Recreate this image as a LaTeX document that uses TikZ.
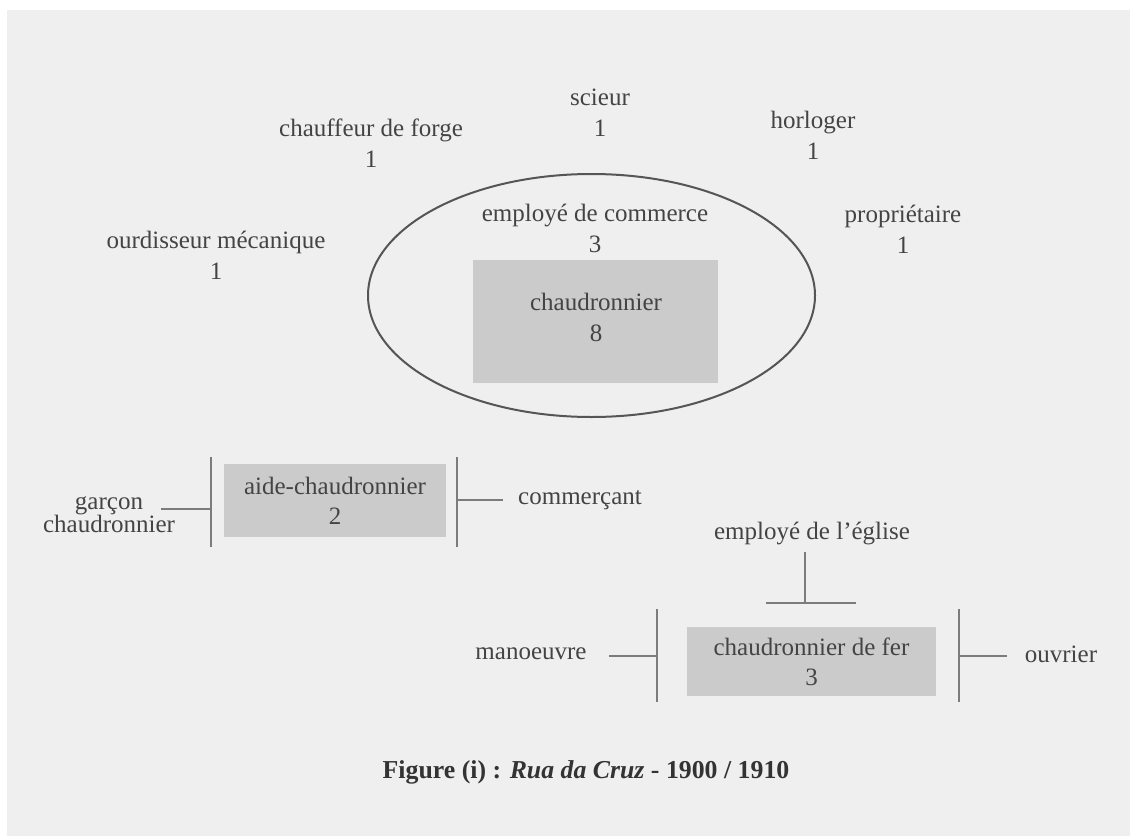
\documentclass[tikz,border=0pt]{standalone}
\usepackage{fontspec}
\setmainfont{Liberation Serif}
\usetikzlibrary{shapes.geometric}
\definecolor{paper}{HTML}{EFEFEF}
\definecolor{ink}{HTML}{444444}
\definecolor{rulegray}{HTML}{7C7C7C}
\definecolor{ringgray}{HTML}{555555}
\definecolor{boxfill}{HTML}{CBCBCB}

\begin{document}
\begin{tikzpicture}[x=1pt,y=-1pt,
  lbl/.style={font=\fontsize{25}{31}\selectfont, text=ink, align=center, inner sep=0pt},
  tightlbl/.style={lbl, font=\fontsize{25}{23}\selectfont},
  jobbox/.style={fill=boxfill, draw=none, inner sep=0pt, align=center,
    font=\fontsize{25}{30}\selectfont, text=ink},
  bar/.style={draw=rulegray, line width=2.6pt},
  link/.style={draw=rulegray, line width=2.2pt}]

% sheet and its margin
\fill[white] (0,0) rectangle (1130,836);
\fill[paper] (7,10) rectangle (1130,836);
\useasboundingbox (0,0) rectangle (1130,836);

% occupations around the central group
\node[lbl] (scieur)   at (600,113)   {scieur\\1};
\node[lbl] (forge)    at (371,143)   {chauffeur de forge\\1};
\node[lbl] (horloger) at (813,135)   {horloger\\1};
\node[lbl] (proprio)  at (903,229)   {propriétaire\\1};
\node[lbl] (ourdis)   at (216,255)   {ourdisseur mécanique\\1};

% central group
\node[ellipse, draw=ringgray, line width=2pt, minimum width=447pt,
      minimum height=243pt, inner sep=0pt] (ring) at (591.5,295.5) {};
\node[lbl] (commerce) at (595,228) {employé de commerce\\3};
\node[jobbox, minimum width=245pt, minimum height=123pt] (chbox) at (595.5,321.5) {};
\node[lbl] (chaud) at (596,317) {chaudronnier\\8};

% aide-chaudronnier group
\node[jobbox, minimum width=222pt, minimum height=73pt] (aide) at (335,500.5)
  {aide-chaudronnier\\2};
\coordinate (aLt) at (211,457);
\coordinate (aLb) at (211,547);
\coordinate (aRt) at (457,457);
\coordinate (aRb) at (457,547);
\draw[bar] (aLt) -- (aLb);
\draw[bar] (aRt) -- (aRb);
\node[tightlbl] (garcon) at (109,515) {garçon\\chaudronnier};
\node[lbl] (comm) at (580,500) {commerçant};
\coordinate (gTip) at (161,509);
\coordinate (cTip) at ([xshift=-15pt]comm.west);
\draw[link] (gTip) -- (gTip -| aLt);
\draw[link] (cTip) -- (cTip -| aRt);

% chaudronnier de fer group
\node[jobbox, minimum width=249pt, minimum height=69pt] (fer) at (811.5,661.5)
  {chaudronnier de fer\\3};
\coordinate (fLt) at (657,609);
\coordinate (fLb) at (657,702);
\coordinate (fRt) at (959,609);
\coordinate (fRb) at (959,702);
\draw[bar] (fLt) -- (fLb);
\draw[bar] (fRt) -- (fRb);
\node[lbl] (manoeuvre) at (531,654) {manoeuvre};
\node[lbl] (ouvrier)   at (1061,654) {ouvrier};
\node[lbl] (eglise)    at (812,533) {employé de l’église};
\coordinate (mTip) at (609,656);
\coordinate (oTip) at (1007,656);
\draw[link] (mTip) -- (mTip -| fLt);
\draw[link] (fRt |- oTip) -- (oTip);
\coordinate (tTop)  at (805,552);
\coordinate (tBase) at (805,603);
\draw[link] (tTop) -- (tBase);
\draw[link] ([xshift=-39pt]tBase) -- ([xshift=51pt]tBase);

% caption
\node[font=\fontsize{25.8}{30}\selectfont\bfseries, text=black!80, inner sep=0pt]
  (caption) at (586,772) {Figure (i) : \textit{Rua da Cruz} - 1900 / 1910};
\end{tikzpicture}
\end{document}
